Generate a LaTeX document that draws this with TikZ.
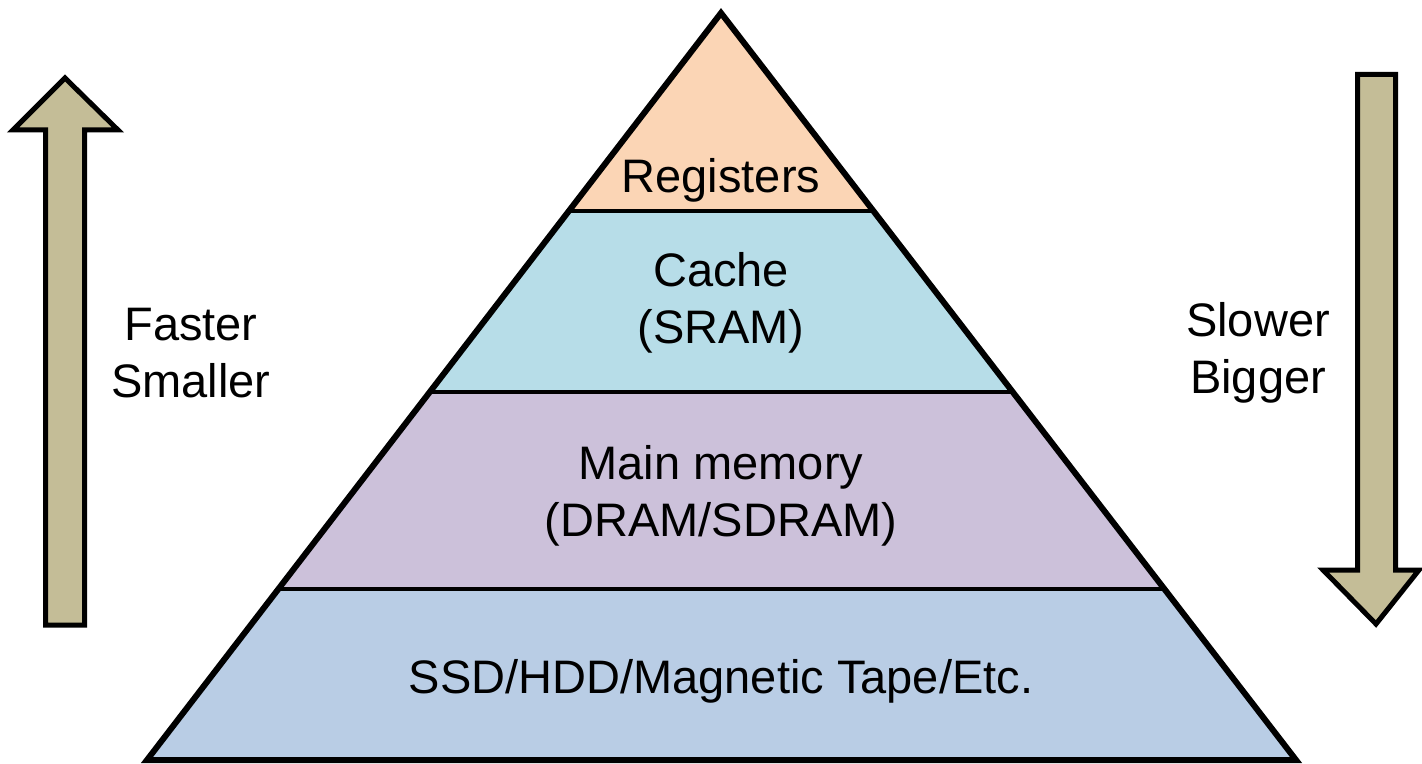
\documentclass[tikz,border=0pt]{standalone}
\usepackage{fontspec}
\setmainfont{Liberation Sans}
\usetikzlibrary{calc}
\definecolor{regfill}{HTML}{FBD5B5}
\definecolor{cachefill}{HTML}{B7DDE8}
\definecolor{memfill}{HTML}{CCC1DA}
\definecolor{diskfill}{HTML}{B9CDE5}
\definecolor{arrowfill}{HTML}{C4BD97}

\begin{document}
\begin{tikzpicture}[x=0.5pt, y=-0.5pt,
		sep/.style={line width=2pt},
		outline/.style={line width=3pt, line join=miter},
		bigarrow/.style={draw=black, fill=arrowfill, line width=2.5pt, line join=miter},
		lbl/.style={font=\fontsize{23.5}{28.5}\selectfont, align=center, inner sep=0pt}]
		\useasboundingbox (0,0) rectangle (1422,764);
		\coordinate (apex) at (721,13);
		\coordinate (baseL) at (147,760);
		\coordinate (baseR) at (1296,760);
		% layer boundaries along the sides
		\foreach \n/\t in {1/0.2654, 2/0.5077, 3/0.7711} {
			\coordinate (L\n) at ($(apex)!\t!(baseL)$);
			\coordinate (R\n) at ($(apex)!\t!(baseR)$);
		}
		\fill[regfill] (apex) -- (R1) -- (L1) -- cycle;
		\fill[cachefill] (L1) -- (R1) -- (R2) -- (L2) -- cycle;
		\fill[memfill] (L2) -- (R2) -- (R3) -- (L3) -- cycle;
		\fill[diskfill] (L3) -- (R3) -- (baseR) -- (baseL) -- cycle;
		\foreach \n in {1,2,3}
			\draw[sep] (L\n) -- (R\n);
		\draw[outline] (apex) -- (baseR) -- (baseL) -- cycle;
		% arrows at the sides
		\draw[bigarrow] (45.5,625) -- (45.5,130) -- (13,130) -- (65,78) -- (118,130)
		-- (84.5,130) -- (84.5,625) -- cycle;
		\draw[bigarrow] (1357.5,74.5) -- (1357.5,570) -- (1323,570) -- (1376,624)
		-- (1419,570) -- (1395.5,570) -- (1395.5,74.5) -- cycle;
		\node[lbl] (reg) at (721,180) {Registers};
		\node[lbl] (cache) at (721,303) {Cache\\(SRAM)};
		\node[lbl] (mem) at (721,496) {Main memory\\(DRAM/SDRAM)};
		\node[lbl] (disk) at (721,681) {SSD/HDD/Magnetic Tape/Etc.};
		\node[lbl] (fast) at (191,353) {Faster\\Smaller};
		\node[lbl] (slow) at (1258,353) {Slower\\Bigger};
	\end{tikzpicture}
\end{document}
